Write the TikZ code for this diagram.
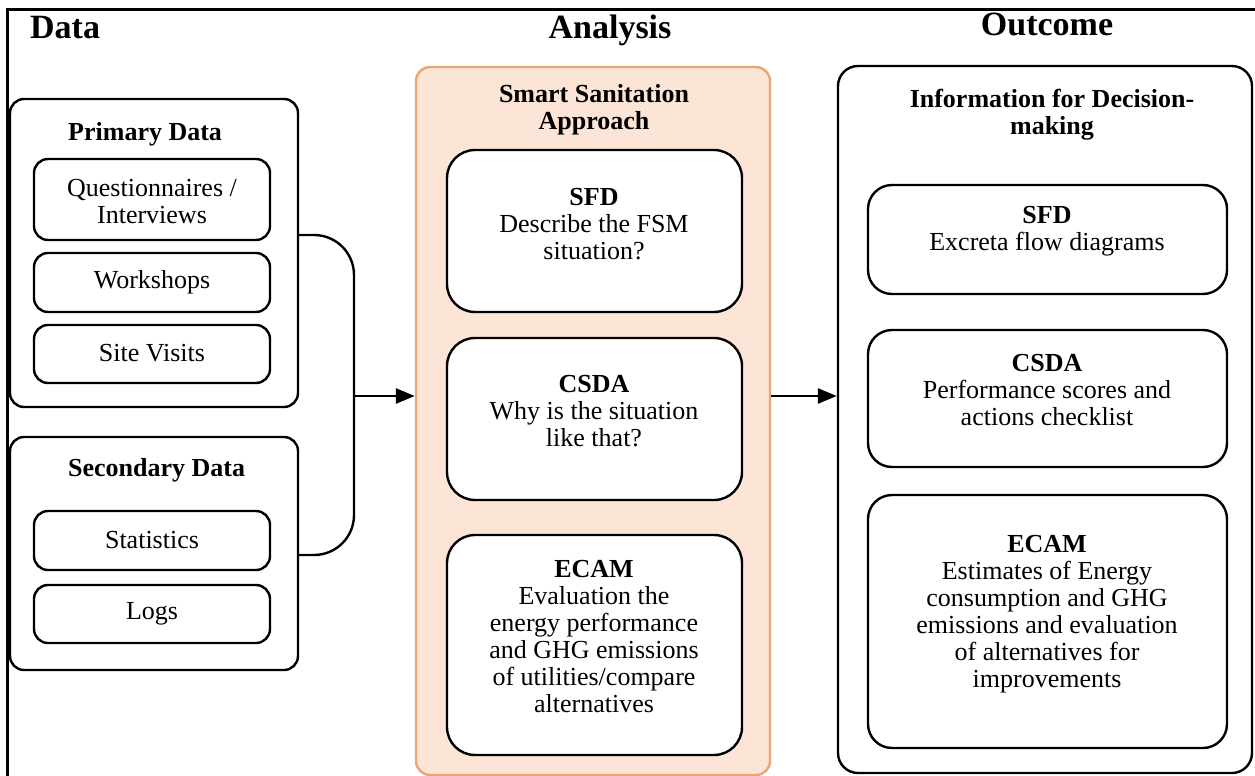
\documentclass[tikz,border=0pt]{standalone}
\usepackage{fontspec}
\setmainfont{Liberation Serif}
\usepackage{xcolor}
\definecolor{Col1}{RGB}{252,228,214}
\definecolor{Col2}{RGB}{236,165,115}
\usepackage{tikz}
\usetikzlibrary{arrows.meta}
\tikzstyle{Box}=[draw,line width=2.4pt,rounded corners=14pt,fill=white,
inner sep=0pt]
\tikzstyle{BigBox}=[Box,rounded corners=28pt]
\tikzstyle{Panel}=[draw=Col2,fill=Col1,line width=2.4pt,
rounded corners=14pt,inner sep=0pt]
\tikzstyle{Txt}=[align=center,inner sep=0pt,
font=\fontsize{26}{27}\selectfont]
\tikzstyle{TxtB}=[Txt,font=\fontsize{26}{27}\selectfont\bfseries]
\tikzstyle{Head}=[inner sep=0pt,font=\fontsize{34}{36}\selectfont\bfseries]
\tikzstyle{Edge}=[draw,line width=2.4pt,rounded corners=40pt]
\tikzstyle{Arrow}=[draw,line width=2.6pt,
-{Triangle[length=19pt,width=15pt]}]

\begin{document}
\begin{tikzpicture}[x=1pt,y=-1pt]
        \useasboundingbox(0,0)rectangle(1255,776);
        \draw[line width=3pt](7,780)--(7,10)--(1260,10);
        \node[Head,anchor=base west](hd)at(30,38){Data};
        \node[Head,anchor=base](ha)at(610,38){Analysis};
        \node[Head,anchor=base](ho)at(1047,36){Outcome};
        % data
        \node[Box,minimum width=288pt,minimum height=308pt](prim)
            at(154,253){};
        \node[TxtB,anchor=west](tprim)at(68,134){Primary Data};
        \node[Box,minimum width=236pt,minimum height=81pt](qst)
            at(152,199.5){};
        \node[Txt](tqst)at(152,202){Questionnaires /\\Interviews};
        \node[Box,minimum width=236pt,minimum height=59pt](wks)
            at(152,282.5){};
        \node[Txt](twks)at(152,282){Workshops};
        \node[Box,minimum width=236pt,minimum height=58pt](site)
            at(152,354){};
        \node[Txt](tsite)at(152,353){Site Visits};
        \node[Box,minimum width=288pt,minimum height=233pt](sec)
            at(154,553.5){};
        \node[TxtB,anchor=west](tsec)at(68,470){Secondary Data};
        \node[Box,minimum width=236pt,minimum height=59pt](stat)
            at(152,540.5){};
        \node[Txt](tstat)at(152,540){Statistics};
        \node[Box,minimum width=236pt,minimum height=58pt](logs)
            at(152,614){};
        \node[Txt](tlogs)at(152,614){Logs};
        % analysis
        \node[Panel,minimum width=354pt,minimum height=708pt](ana)
            at(593,421){};
        \node[TxtB](tana)at(594,110){Smart Sanitation\\Approach};
        \node[BigBox,minimum width=295pt,minimum height=162pt](sfdA)
            at(594.5,231){};
        \node[Txt](tsfdA)at(594,224)
            {\textbf{SFD}\\Describe the FSM\\situation?};
        \node[BigBox,minimum width=295pt,minimum height=162pt](csdaA)
            at(594.5,419){};
        \node[Txt](tcsdaA)at(594,411)
            {\textbf{CSDA}\\Why is the situation\\like that?};
        \node[BigBox,minimum width=295pt,minimum height=220pt](ecamA)
            at(594.5,645){};
        \node[Txt](tecamA)at(594,637){\textbf{ECAM}\\Evaluation the\\
            energy performance\\and GHG emissions\\
            of utilities/compare\\alternatives};
        % outcome
        \node[Box,rounded corners=20pt,minimum width=414pt,
            minimum height=707pt](out)at(1045,419.5){};
        \node[TxtB](tout)at(1052,115){Information for Decision-\\making};
        \node[BigBox,rounded corners=24pt,minimum width=359pt,
            minimum height=109pt](sfdO)at(1047.5,239.5){};
        \node[Txt](tsfdO)at(1047,231){\textbf{SFD}\\Excreta flow diagrams};
        \node[BigBox,rounded corners=24pt,minimum width=359pt,
            minimum height=137pt](csdaO)at(1047.5,398.5){};
        \node[Txt](tcsdaO)at(1047,390)
            {\textbf{CSDA}\\Performance scores and\\actions checklist};
        \node[BigBox,rounded corners=24pt,minimum width=359pt,
            minimum height=253pt](ecamO)at(1047.5,621.5){};
        \node[Txt](tecamO)at(1047,614){\textbf{ECAM}\\Estimates of Energy\\
            consumption and GHG\\emissions and evaluation\\
            of alternatives for\\improvements};
        % links
        \coordinate(jn)at(354,396);
        \draw[Edge](prim.east|-0,235)-|(jn)|-(sec.east|-0,555);
        \draw[Arrow](jn)--(jn-|ana.west);
        \draw[Arrow](jn-|ana.east)--(jn-|out.west);
    \end{tikzpicture}
\end{document}
